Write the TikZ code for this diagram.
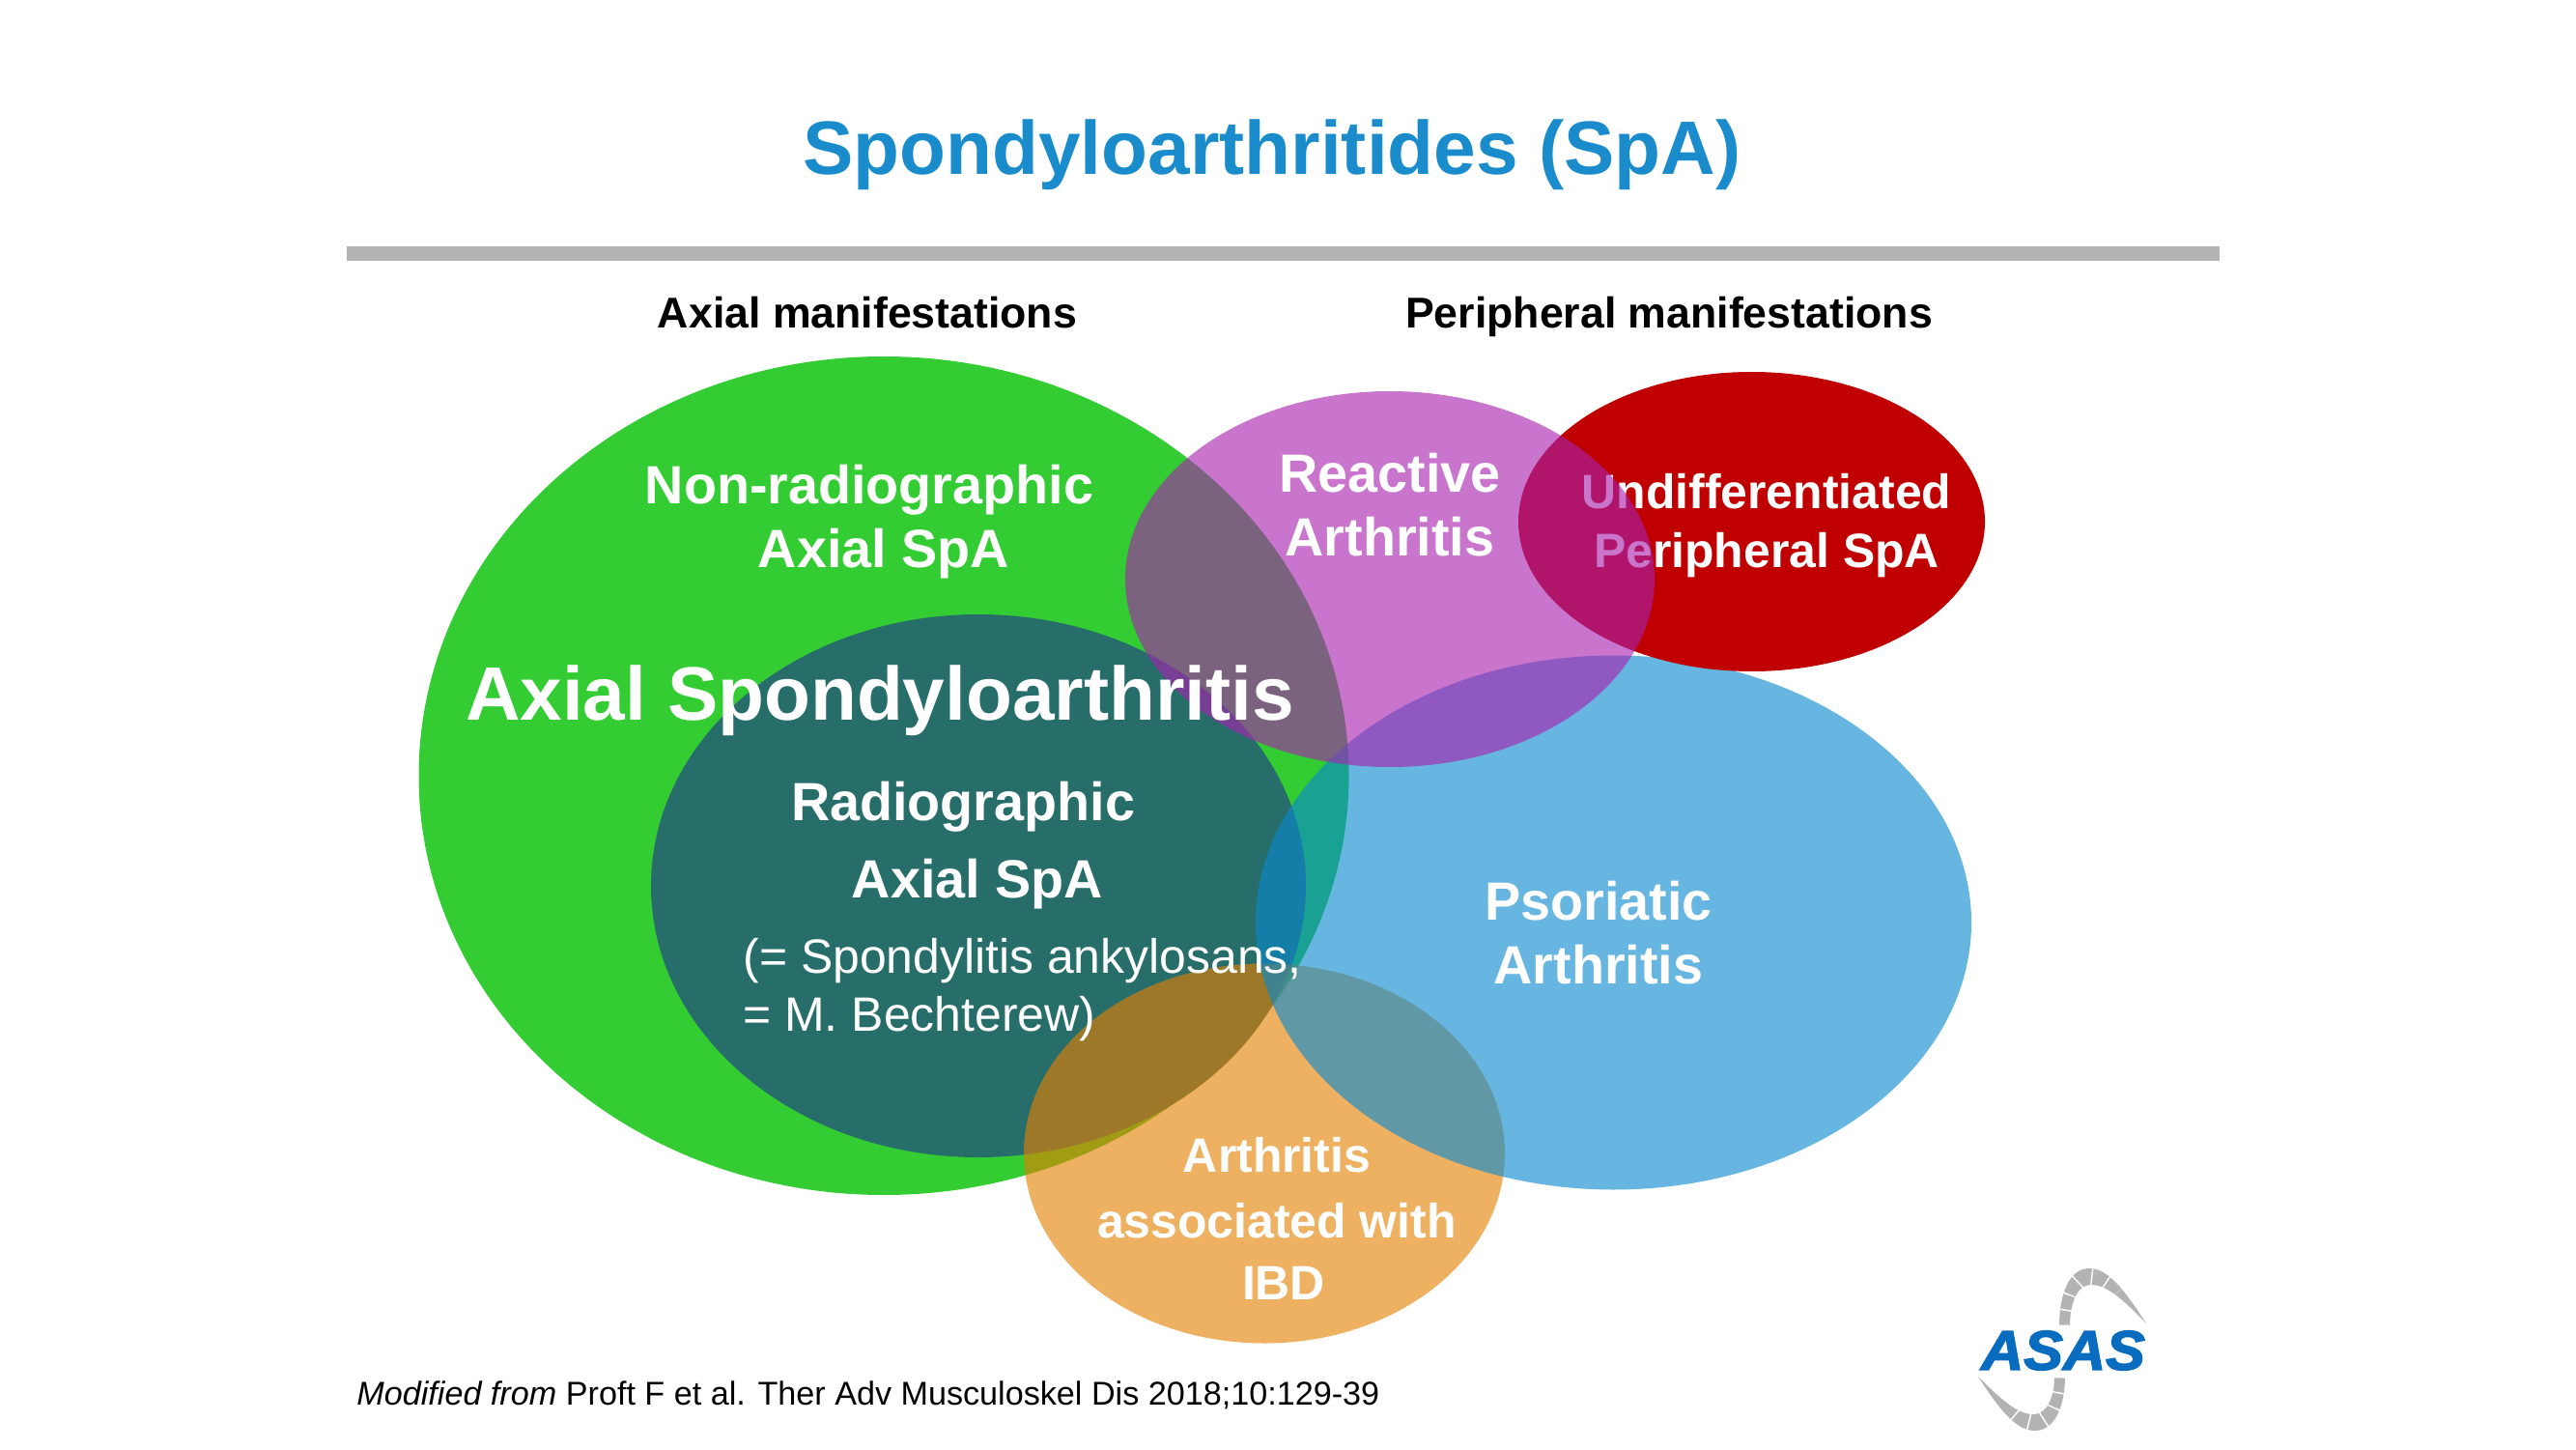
\documentclass[tikz,border=0pt]{standalone}
\usepackage{fontspec}
\setmainfont{Liberation Sans}
\newfontfamily\logofont{Liberation Sans}[BoldItalicFeatures={FakeBold=2.5}]
\usetikzlibrary{shapes.geometric}

\definecolor{titleblue}{HTML}{1A8CCB}
\definecolor{rulegrey}{HTML}{B3B3B3}
\definecolor{logoblue}{HTML}{0A6CBF}
\definecolor{axgreen}{HTML}{33CC33}
\definecolor{radteal}{HTML}{276E6A}
\definecolor{reapurple}{HTML}{A821AE}
\definecolor{undred}{HTML}{C00000}
\definecolor{psoblue}{HTML}{0A89CF}
\definecolor{ibdorange}{HTML}{E47F00}

\begin{document}
\begin{tikzpicture}[
    blob/.style={ellipse, inner sep=0pt, outer sep=0pt},
    see/.style={blob, fill opacity=0.62},
    head/.style={font=\bfseries\fontsize{12.7}{15}\selectfont, text=black},
    lab/.style={font=\bfseries\fontsize{15.85}{18.8}\selectfont, text=white, align=center},
    lab small/.style={font=\bfseries\fontsize{14.2}{17.3}\selectfont, text=white, align=center},
    plain/.style={font=\fontsize{14.2}{17}\selectfont, text=white, anchor=west}]
    \useasboundingbox (0,0) rectangle (26.67,15);

    % title and rule
    \node[font=\bfseries\fontsize{22.3}{26}\selectfont, text=titleblue] (title) at (13.17,13.40) {Spondyloarthritides (SpA)};
    \fill[rulegrey] (3.59,12.30) rectangle (22.98,12.45);
    \node[head] (axhead) at (8.98,11.76) {Axial manifestations};
    \node[head] (perhead) at (17.28,11.72) {Peripheral manifestations};

    % ellipses, back to front
    \node[blob, fill=axgreen, minimum width=9.63cm, minimum height=8.68cm] (axial) at (9.15,6.97) {};
    \node[blob, fill=radteal, minimum width=6.78cm, minimum height=5.62cm] (radio) at (10.13,5.83) {};
    \node[see, fill=ibdorange, minimum width=4.98cm, minimum height=3.93cm] (ibd) at (13.09,3.06) {};
    \node[see, fill=psoblue, minimum width=7.41cm, minimum height=5.53cm] (psoriatic) at (16.705,5.45) {};
    \node[blob, fill=undred, minimum width=4.83cm, minimum height=3.10cm] (undiff) at (18.135,9.60) {};

    % this text sits below the purple one
    \node[lab small] (undlabel) at (18.29,9.56) {Undifferentiated\\Peripheral SpA};

    \node[see, fill=reapurple, minimum width=5.48cm, minimum height=3.89cm] (reactive) at (14.39,9.005) {};
    \begin{scope}
      \clip (14.39,9.005) ellipse (2.74 and 1.945);
      \fill[radteal] (10.05,5.75) ellipse (3.27 and 2.74);
    \end{scope}

    % labels
    \node[lab] (nonrad) at (9.00,9.93) {Non-radiographic};
    \node[lab] (nonaxial) at (9.15,9.27) {Axial SpA};
    \node[font=\bfseries\fontsize{22.3}{26}\selectfont, text=white] (axlabel) at (9.11,7.75) {Axial Spondyloarthritis};
    \node[lab] (radlabel) at (9.97,6.65) {Radiographic};
    \node[lab] (radaxial) at (10.12,5.85) {Axial SpA};
    \node[plain] (ankylos) at (7.57,5.05) {(= Spondylitis ankylosans,};
    \node[plain] (bechter) at (7.57,4.45) {= M. Bechterew)};
    \node[lab] (realabel) at (14.39,9.77) {Reactive\\Arthritis};
    \node[lab] (psolabel) at (16.55,5.34) {Psoriatic\\Arthritis};
    \node[lab small] (ibdone) at (13.22,3.04) {Arthritis};
    \node[lab small] (ibdtwo) at (13.22,2.36) {associated with};
    \node[lab small] (ibdthree) at (13.29,1.72) {IBD};

    \node[font=\fontsize{9.72}{11}\selectfont, text=black, anchor=west] (source) at (3.57,0.56) {\textit{Modified from} Proft F et al. Ther Adv Musculoskel Dis 2018;10:129-39};

    % logo
    \fill[rulegrey] (22.22,1.30) .. controls (21.95,1.72) and (21.80,1.87) .. (21.63,1.87)
        .. controls (21.42,1.87) and (21.32,1.60) .. (21.32,1.27) -- (21.43,1.27)
        .. controls (21.43,1.50) and (21.50,1.70) .. (21.65,1.70) .. controls (21.80,1.70) and (21.95,1.58) .. cycle;
    \fill[rulegrey] (20.48,0.75) .. controls (20.75,0.33) and (20.90,0.19) .. (21.07,0.19)
        .. controls (21.28,0.19) and (21.38,0.46) .. (21.38,0.75) -- (21.27,0.75)
        .. controls (21.27,0.55) and (21.20,0.36) .. (21.05,0.36) .. controls (20.90,0.36) and (20.75,0.48) .. cycle;
    \draw[white, line width=0.22cm, dash pattern=on 0.4pt off 4.2pt] (21.375,1.27) .. controls (21.375,1.55) and (21.47,1.79) .. (21.64,1.785) .. controls (21.75,1.78) and (21.84,1.72) .. (21.92,1.62);
    \draw[white, line width=0.22cm, dash pattern=on 0.4pt off 4.2pt] (21.325,0.75) .. controls (21.325,0.50) and (21.23,0.27) .. (21.06,0.275) .. controls (20.95,0.28) and (20.86,0.34) .. (20.78,0.44);
    \node[font=\logofont\bfseries\itshape\fontsize{16.4}{19}\selectfont, text=logoblue, xscale=1.06, inner sep=0pt] (asas) at (21.36,1.02) {ASAS};
\end{tikzpicture}
\end{document}
